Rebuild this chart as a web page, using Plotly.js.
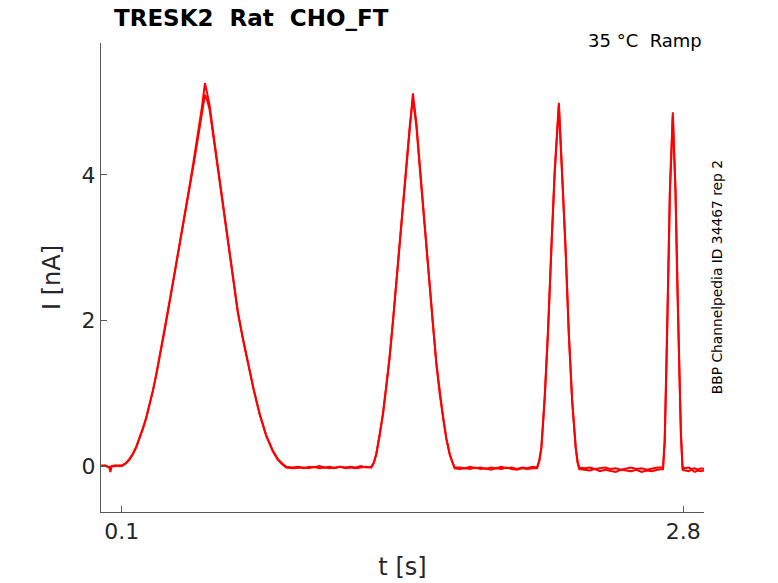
<!DOCTYPE html>
<html>
<head>
<meta charset="utf-8">
<script src="https://cdn.plot.ly/plotly-3.0.1.min.js"></script>
<style>
  body { margin: 0; background: #fff; }
  #plot { width: 778px; height: 583px; }
</style>
</head>
<body>
<div id="plot"></div>
<script>
// time base shared by both repetitions [s]
const time = [
  0.000, 0.020, 0.040, 0.045, 0.050, 0.070, 0.090, 0.100,
  0.120, 0.137, 0.153, 0.170, 0.185, 0.200, 0.217, 0.233, 0.250, 0.266, 0.286,
  0.306, 0.325, 0.345, 0.365, 0.386, 0.406, 0.426, 0.446, 0.466, 0.484, 0.500,
  0.511, 0.522, 0.546, 0.570, 0.594, 0.618, 0.638, 0.658, 0.682, 0.706, 0.734,
  0.763, 0.795, 0.827, 0.850, 0.870, 0.891,
  0.920, 0.950, 0.975, 1.000, 1.025, 1.050, 1.075, 1.100,
  1.125, 1.150, 1.175, 1.200, 1.225, 1.250, 1.275, 1.300,
  1.312, 1.324, 1.340, 1.356, 1.372, 1.388, 1.405, 1.421, 1.437, 1.452, 1.468, 1.484, 1.500,
  1.517, 1.533, 1.549, 1.565, 1.581, 1.597, 1.613, 1.629, 1.645, 1.661, 1.677, 1.690, 1.701,
  1.725, 1.750, 1.775, 1.800, 1.825, 1.850, 1.875, 1.900,
  1.925, 1.950, 1.975, 2.000, 2.025, 2.050, 2.075, 2.097,
  2.108, 2.118, 2.134, 2.150, 2.166, 2.182, 2.202,
  2.218, 2.234, 2.250, 2.266, 2.283, 2.292, 2.300,
  2.325, 2.350, 2.375, 2.400, 2.425, 2.450, 2.475, 2.500,
  2.525, 2.550, 2.575, 2.600, 2.625, 2.650, 2.675, 2.703,
  2.711, 2.720, 2.728, 2.736, 2.750,
  2.763, 2.771, 2.781, 2.789, 2.797,
  2.810, 2.825, 2.840, 2.855, 2.870, 2.885, 2.900
];

// current, repetition A [nA]
const currentA = [
  0.00, 0.01, -0.02, -0.08, -0.01, 0.00, 0.01, 0.00,
  0.04, 0.09, 0.16, 0.26, 0.37, 0.50, 0.65, 0.83, 1.04, 1.26, 1.56,
  1.88, 2.19, 2.51, 2.83, 3.17, 3.50, 3.85, 4.20, 4.56, 4.90, 5.26,
  5.10, 4.96, 4.45, 3.95, 3.43, 2.92, 2.51, 2.12, 1.76, 1.42, 1.06,
  0.72, 0.42, 0.21, 0.10, 0.04, -0.01,
  -0.02, -0.01, -0.03, -0.01, -0.02, 0.00, -0.02, -0.01,
  -0.03, -0.01, -0.02, -0.01, -0.02, 0.00, -0.02, -0.01,
  0.05, 0.17, 0.42, 0.72, 1.10, 1.50, 2.02, 2.55, 3.08, 3.61, 4.15, 4.70, 5.12,
  4.70, 4.12, 3.56, 3.00, 2.46, 1.92, 1.41, 1.00, 0.67, 0.38, 0.17, 0.05, -0.02,
  -0.02, -0.03, -0.01, -0.03, -0.02, -0.04, -0.02, -0.03,
  -0.01, -0.03, -0.02, -0.04, -0.02, -0.03, -0.01, -0.02,
  0.08, 0.26, 0.95, 1.87, 3.01, 4.06, 4.99,
  4.06, 3.01, 1.82, 0.90, 0.26, 0.06, -0.02,
  -0.03, -0.02, -0.04, -0.03, -0.02, -0.04, -0.03, -0.05,
  -0.03, -0.02, -0.04, -0.03, -0.05, -0.03, -0.02, -0.02,
  0.35, 1.41, 2.64, 3.79, 4.86,
  3.79, 2.55, 1.41, 0.45, -0.02,
  -0.03, -0.02, -0.04, -0.03, -0.05, -0.03, -0.04
];

// current, repetition B [nA]
const currentB = [
  0.01, 0.00, -0.01, -0.05, 0.00, 0.01, 0.00, 0.01,
  0.04, 0.10, 0.17, 0.27, 0.38, 0.51, 0.66, 0.84, 1.04, 1.26, 1.55,
  1.86, 2.17, 2.49, 2.81, 3.14, 3.46, 3.81, 4.15, 4.50, 4.83, 5.10,
  5.02, 4.90, 4.41, 3.92, 3.41, 2.90, 2.50, 2.11, 1.75, 1.41, 1.05,
  0.71, 0.41, 0.20, 0.09, 0.03, -0.02,
  -0.03, -0.02, -0.02, -0.03, -0.01, -0.03, -0.02, -0.03,
  -0.02, -0.01, -0.03, -0.02, -0.03, -0.02, -0.01, -0.02,
  0.04, 0.16, 0.41, 0.71, 1.09, 1.49, 2.01, 2.54, 3.06, 3.58, 4.11, 4.64, 5.05,
  4.66, 4.09, 3.54, 2.98, 2.44, 1.91, 1.40, 0.99, 0.66, 0.37, 0.16, 0.04, -0.03,
  -0.04, -0.03, -0.04, -0.02, -0.04, -0.03, -0.05, -0.03,
  -0.04, -0.02, -0.04, -0.05, -0.03, -0.04, -0.03, -0.03,
  0.07, 0.25, 0.93, 1.85, 2.98, 4.02, 4.95,
  4.03, 2.99, 1.80, 0.89, 0.25, 0.05, -0.04,
  -0.05, -0.06, -0.04, -0.07, -0.05, -0.06, -0.08, -0.05,
  -0.06, -0.07, -0.05, -0.08, -0.06, -0.07, -0.05, -0.04,
  0.33, 1.38, 2.61, 3.75, 4.80,
  3.76, 2.53, 1.39, 0.43, -0.05,
  -0.06, -0.07, -0.05, -0.08, -0.06, -0.07, -0.06
];

const xTicks = [0.1, 2.8];
const yTicks = [0, 2, 4];

const titleText = 'TRESK2\u00a0\u00a0Rat\u00a0\u00a0CHO_FT';
const conditionText = '35\u00a0°C\u00a0\u00a0Ramp';
const sourceText = 'BBP Channelpedia ID 34467 rep 2';

const font = 'DejaVu Sans, sans-serif';
const ink = '#262626';

var data = [
  { x: time, y: currentB, mode: 'lines', type: 'scatter', line: {color: '#ff0000', width: 2} },
  { x: time, y: currentA, mode: 'lines', type: 'scatter', line: {color: '#ff0000', width: 2} }
];

var layout = {
  width: 778,
  height: 583,
  margin: {t: 43, r: 74, b: 71, l: 101},
  paper_bgcolor: '#fff',
  plot_bgcolor: '#fff',
  showlegend: false,
  font: {family: font, color: ink},
  xaxis: {
    range: [0, 2.9],
    tickvals: xTicks,
    ticktext: xTicks.map(String),
    ticks: 'inside',
    ticklen: 6,
    tickcolor: '#595959',
    showline: true,
    linecolor: '#595959',
    linewidth: 1,
    showgrid: false,
    zeroline: false,
    tickfont: {size: 22, color: ink},
    title: {text: 't [s]', font: {size: 24, color: ink}, standoff: 14}
  },
  yaxis: {
    range: [-0.63, 5.81],
    tickvals: yTicks,
    ticktext: yTicks.map(String),
    ticks: 'inside',
    ticklen: 6,
    tickcolor: '#595959',
    showline: true,
    linecolor: '#595959',
    linewidth: 1,
    showgrid: false,
    zeroline: false,
    tickfont: {size: 22, color: ink},
    title: {text: 'I [nA]', font: {size: 24, color: ink}, standoff: 14}
  },
  annotations: [
    {
      text: '<b>' + titleText + '</b>',
      xref: 'paper', yref: 'paper', x: 0.018, y: 1.053,
      xanchor: 'left', yanchor: 'middle', showarrow: false,
      font: {family: font, size: 23, color: '#000'}
    },
    {
      text: conditionText,
      xref: 'paper', yref: 'paper', x: 1.0, y: 1.006,
      xanchor: 'right', yanchor: 'middle', showarrow: false,
      font: {family: font, size: 18, color: '#000'}
    },
    {
      text: sourceText,
      xref: 'paper', yref: 'paper', x: 1.021, y: 0.5,
      xanchor: 'center', yanchor: 'middle', showarrow: false,
      textangle: -90,
      font: {family: font, size: 13.8, color: '#000'}
    }
  ]
};

Plotly.newPlot('plot', data, layout, {displayModeBar: false, staticPlot: true});
</script>
</body>
</html>
